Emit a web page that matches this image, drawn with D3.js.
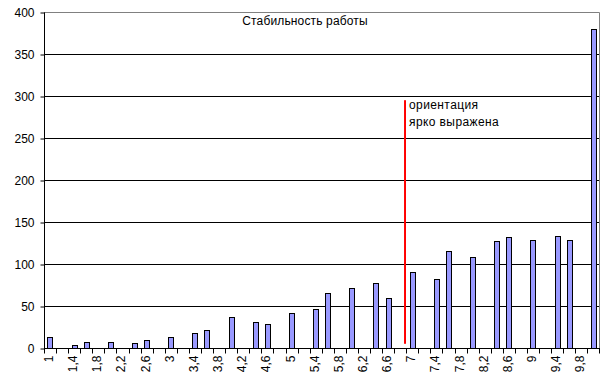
<!DOCTYPE html>
<html><head><meta charset="utf-8">
<script src="https://cdn.jsdelivr.net/npm/d3@7"></script>
<style>body{margin:0;background:#fff}svg{display:block}text{font-family:Arial,"Liberation Sans",sans-serif}</style>
</head><body><svg id="c" width="601" height="389"></svg>
<script>
const categories = ["1","1,2","1,4","1,6","1,8","2","2,2","2,4","2,6","2,8","3","3,2","3,4","3,6","3,8","4","4,2","4,4","4,6","4,8","5","5,2","5,4","5,6","5,8","6","6,2","6,4","6,6","6,8","7","7,2","7,4","7,6","7,8","8","8,2","8,4","8,6","8,8","9","9,2","9,4","9,6","9,8","10"];
const values = [13,0,3,7,0,7,0,6,9,0,13,0,18,21,0,37,0,31,28,0,42,0,46,65,0,71,0,77,59,0,90,0,82,116,0,108,0,127,132,0,128,0,133,128,0,380];
const tickLabels = ["1","1,4","1,8","2,2","2,6","3","3,4","3,8","4,2","4,6","5","5,4","5,8","6,2","6,6","7","7,4","7,8","8,2","8,6","9","9,4","9,8"];
const yTicks = [0,50,100,150,200,250,300,350,400];
const title = "Стабильность работы";
const markerCategory = "7";
const markerRange = [5, 295];
const noteLines = ["ориентация","ярко выражена"];

const svg = d3.select("#c");
const L = 44, R = 599, T = 12, B = 348;
const x = d3.scaleBand().domain(categories).range([L, R]).paddingInner(0.6).paddingOuter(0.28);
const y = d3.scaleLinear().domain([0, 400]).range([B, T]);

// gridlines
svg.append("g").selectAll("line").data(yTicks.filter(d => d > 0 && d < 400)).join("line")
  .attr("x1", L).attr("x2", R).attr("y1", d => y(d) + 0.5).attr("y2", d => y(d) + 0.5)
  .attr("stroke", "#000").attr("stroke-width", 1);
// plot border top/right gray
svg.append("path").attr("d", `M${L},${T + 0.5}H${R + 0.5}V${B}`).attr("fill", "none").attr("stroke", "#808080");

// bars
svg.append("g").selectAll("rect").data(values.map((v, i) => ({c: categories[i], v}))).join("rect")
  .filter(d => d.v > 0)
  .attr("x", d => Math.round(x(d.c)) + 0.5).attr("width", Math.round(x.bandwidth()))
  .attr("y", d => Math.round(y(d.v)) + 0.5).attr("height", d => Math.round(B - y(d.v)))
  .attr("fill", "#9999FF").attr("stroke", "#000").attr("stroke-width", 1);

// y axis
const ya = svg.append("g").attr("transform", `translate(${L + 0.5},0.5)`)
  .call(d3.axisLeft(y).tickValues(yTicks).tickSize(4).tickPadding(6).tickFormat(d3.format("d")));
ya.select(".domain").attr("stroke", "#000").attr("d", `M0,${T}V${B}`);
ya.selectAll(".tick line").attr("stroke", "#000");
ya.selectAll("text").attr("font-size", 12).attr("fill", "#000").attr("font-family", "Arial, 'Liberation Sans', sans-serif");

// x axis
const xa = svg.append("g").attr("transform", `translate(0,${B + 0.5})`);
xa.append("line").attr("x1", L).attr("x2", R + 1).attr("y1", 0).attr("y2", 0).attr("stroke", "#000");
const step = x.step();
xa.selectAll("line.t").data(categories.concat(["__end"])).join("line").attr("class", "t")
  .attr("x1", (d, i) => Math.round(L + i * step) + 0.5).attr("x2", (d, i) => Math.round(L + i * step) + 0.5)
  .attr("y1", 0).attr("y2", 5).attr("stroke", "#000");
xa.selectAll("text").data(tickLabels).join("text")
  .attr("transform", d => `translate(${x(d) + x.bandwidth() / 2 - 1},7) rotate(-90)`)
  .attr("text-anchor", "end").attr("dy", "0.35em").attr("font-size", 12).attr("fill", "#000")
  .text(d => d);

// title
svg.append("text").attr("x", 305).attr("y", 25).attr("text-anchor", "middle").attr("font-size", 12)
  .attr("letter-spacing", 0.15).text(title);

// marker line
const mx = x(markerCategory) - (step - x.bandwidth()) / 2 - 1;
svg.append("line").attr("x1", mx).attr("x2", mx).attr("y1", y(markerRange[1])).attr("y2", y(markerRange[0]))
  .attr("stroke", "#FF0000").attr("stroke-width", 2);
svg.selectAll("text.note").data(noteLines).join("text").attr("class", "note")
  .attr("x", mx + 4).attr("y", (d, i) => 108.5 + i * 17).attr("font-size", 12)
  .attr("letter-spacing", 0.4).text(d => d);
</script></body></html>
